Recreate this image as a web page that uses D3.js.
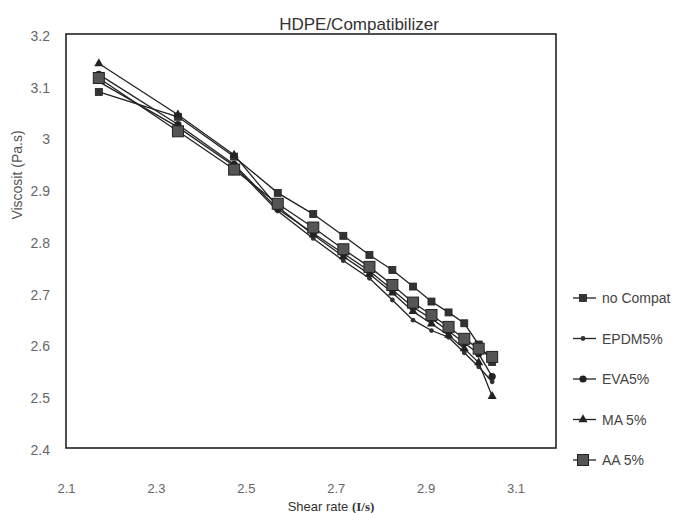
<!DOCTYPE html>
<html><head><meta charset="utf-8">
<script src="https://cdn.jsdelivr.net/npm/d3@7"></script>
<style>
html,body{margin:0;padding:0;background:#fff;}
svg{display:block;font-family:"Liberation Sans",Arial,sans-serif;}
</style></head>
<body>
<svg id="chart" width="674" height="513"></svg>
<script>
// ---- data ----
const shearRate = [2.173, 2.349, 2.474, 2.571, 2.650, 2.717, 2.775, 2.826, 2.872, 2.913, 2.951, 2.986, 3.018, 3.048];
const noCompat  = [3.088, 3.040, 2.963, 2.893, 2.852, 2.810, 2.773, 2.744, 2.712, 2.683, 2.662, 2.641, 2.600, 2.566];
const epdm5     = [3.108, 3.020, 2.945, 2.858, 2.805, 2.762, 2.728, 2.686, 2.647, 2.627, 2.614, 2.584, 2.557, 2.528];
const eva5      = [3.122, 3.025, 2.948, 2.862, 2.815, 2.776, 2.742, 2.706, 2.672, 2.650, 2.626, 2.603, 2.582, 2.538];
const ma5       = [3.143, 3.044, 2.966, 2.866, 2.812, 2.770, 2.736, 2.700, 2.664, 2.640, 2.618, 2.592, 2.565, 2.500];
const aa5       = [3.115, 3.012, 2.938, 2.872, 2.826, 2.784, 2.750, 2.715, 2.681, 2.657, 2.634, 2.611, 2.592, 2.576];
const seriesNames = ["no Compat", "EPDM5%", "EVA5%", "MA 5%", "AA 5%"];
const xTicks = [2.1, 2.3, 2.5, 2.7, 2.9, 3.1];
const yTicks = [2.4, 2.5, 2.6, 2.7, 2.8, 2.9, 3, 3.1, 3.2];
const title = "HDPE/Compatibilizer";
const yTitle = "Viscosit (Pa.s)";

const seriesValues = [noCompat, epdm5, eva5, ma5, aa5];
const markers = ["smallSquare", "smallDot", "circle", "triangle", "bigSquare"];

const svg = d3.select("#chart");
const L = 66, R = 556, T = 34, B = 448;
const x = d3.scaleLinear().domain([2.1, 3.19]).range([L, R]);
const y = d3.scaleLinear().domain([2.4, 3.2]).range([B, T]);

// title
svg.append("text").attr("x", 359).attr("y", 30).attr("text-anchor", "middle")
  .attr("font-size", 17).attr("fill", "#333").text(title);

// axes (labels only)
const gy = svg.append("g").attr("transform", `translate(${L},0)`)
  .call(d3.axisLeft(y).tickValues(yTicks).tickSize(0).tickPadding(16).tickFormat(d3.format("")));
gy.select(".domain").remove();
gy.selectAll("text").attr("font-size", 14).attr("fill", "#666").attr("dy", "0.45em")
  .style("font-family", "'Liberation Sans',Arial,sans-serif");

const gx = svg.append("g").attr("transform", `translate(0,${B})`)
  .call(d3.axisBottom(x).tickValues(xTicks).tickSize(0).tickPadding(36).tickFormat(d3.format("")));
gx.select(".domain").remove();
gx.selectAll("text").attr("font-size", 13).attr("fill", "#666")
  .style("font-family", "'Liberation Sans',Arial,sans-serif");

// axis titles
const xt = svg.append("text").attr("x", 331).attr("y", 511).attr("text-anchor", "middle")
  .attr("font-size", 13).attr("fill", "#333");
xt.append("tspan").text("Shear rate  ");
xt.append("tspan").attr("font-family", "'Liberation Serif','DejaVu Serif',serif")
  .attr("font-weight", "bold").attr("font-size", 13).text("(I/s)");

svg.append("text").attr("transform", "translate(22,175) rotate(-90)")
  .attr("text-anchor", "middle").attr("font-size", 14).attr("fill", "#555").text(yTitle);

// frame
svg.append("rect").attr("x", L).attr("y", T).attr("width", R - L).attr("height", B - T)
  .attr("fill", "none").attr("stroke", "#222").attr("stroke-width", 1.6);

// marker drawing
function drawMarker(g, type, cx, cy) {
  if (type === "smallSquare") {
    g.append("rect").attr("x", cx - 3.5).attr("y", cy - 3.5).attr("width", 7).attr("height", 7)
      .attr("fill", "#333").attr("stroke", "#222").attr("stroke-width", 0.8);
  } else if (type === "bigSquare") {
    g.append("rect").attr("x", cx - 5.5).attr("y", cy - 5.5).attr("width", 11).attr("height", 11)
      .attr("fill", "#555").attr("stroke", "#222").attr("stroke-width", 1);
  } else if (type === "smallDot") {
    g.append("circle").attr("cx", cx).attr("cy", cy).attr("r", 2.4).attr("fill", "#333");
  } else if (type === "circle") {
    g.append("circle").attr("cx", cx).attr("cy", cy).attr("r", 3.6).attr("fill", "#222");
  } else if (type === "triangle") {
    g.append("path").attr("d", d3.symbol().type(d3.symbolTriangle).size(36)())
      .attr("transform", `translate(${cx},${cy})`).attr("fill", "#222");
  }
}

const line = d3.line().x(d => x(d[0])).y(d => y(d[1]));
seriesValues.forEach((vals, i) => {
  const pts = shearRate.map((s, j) => [s, vals[j]]);
  const g = svg.append("g");
  g.append("path").attr("d", line(pts)).attr("fill", "none")
    .attr("stroke", "#222").attr("stroke-width", 1.3);
  pts.forEach(p => drawMarker(g, markers[i], x(p[0]), y(p[1])));
});

// legend
const ly = d3.scalePoint().domain(seriesNames).range([298, 460]);
seriesNames.forEach((name, i) => {
  const g = svg.append("g");
  const yy = ly(name);
  g.append("line").attr("x1", 573).attr("x2", 596).attr("y1", yy).attr("y2", yy)
    .attr("stroke", "#222").attr("stroke-width", 1.3);
  drawMarker(g, markers[i], 583, yy);
  g.append("text").attr("x", 602).attr("y", yy).attr("dy", "0.36em")
    .attr("font-size", 14).attr("fill", "#444").text(name);
});
</script>
</body></html>
